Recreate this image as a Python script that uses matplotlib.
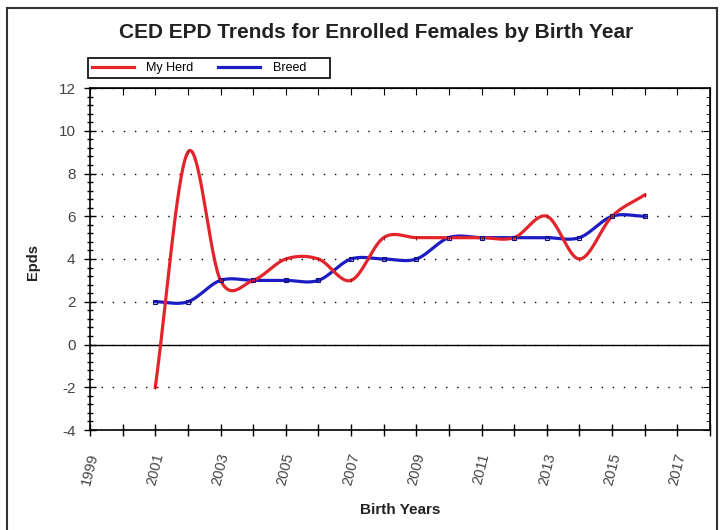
import numpy as np
import matplotlib
matplotlib.use('Agg')
import matplotlib.pyplot as plt
from matplotlib.patches import Rectangle
from matplotlib.ticker import MultipleLocator

years = [2001, 2002, 2003, 2004, 2005, 2006, 2007, 2008,
         2009, 2010, 2011, 2012, 2013, 2014, 2015, 2016]
my_herd = [-2, 9, 3, 3, 4, 4, 3, 5, 5, 5, 5, 5, 6, 4, 6, 7]
breed = [2, 2, 3, 3, 3, 3, 4, 4, 4, 5, 5, 5, 5, 5, 6, 6]

xtick_years = list(range(1999, 2018, 2))


def spline(x, y, n=30):
    # catmull-rom style smoothing through the points
    x = np.asarray(x, float)
    y = np.asarray(y, float)
    m = np.zeros_like(y)
    m[1:-1] = (y[2:] - y[:-2]) / 2
    m[0] = y[1] - y[0]
    m[-1] = y[-1] - y[-2]
    xs, ys = [], []
    for i in range(len(x) - 1):
        t = np.linspace(0, 1, n, endpoint=False)
        h00 = 2 * t**3 - 3 * t**2 + 1
        h10 = t**3 - 2 * t**2 + t
        h01 = -2 * t**3 + 3 * t**2
        h11 = t**3 - t**2
        xs.append(x[i] + t * (x[i + 1] - x[i]))
        ys.append(h00 * y[i] + h10 * m[i] + h01 * y[i + 1] + h11 * m[i + 1])
    xs.append([x[-1]])
    ys.append([y[-1]])
    return np.concatenate(xs), np.concatenate(ys)


plt.rcParams['font.family'] = ['Liberation Sans', 'DejaVu Sans']
plt.rcParams['axes.unicode_minus'] = False

fig = plt.figure(figsize=(7.25, 5.3), dpi=100)
ax = fig.add_axes([90 / 725, 1 - 430 / 530, 620 / 725, 342 / 530])

red = '#e3242b'
blue = '#1c1cc4'

xr, yr = spline(years, my_herd)
xb, yb = spline(years, breed)
ax.plot(xr, yr, color=red, lw=2.3, zorder=4)
ax.plot(years, my_herd, ls='none', marker='|', ms=3, mew=0.8, color='#a01818', zorder=5)
ax.plot(xb, yb, color=blue, lw=2.3, zorder=3)
ax.plot(years, breed, ls='none', marker='s', ms=2.5, mfc='none', mec='#101080', mew=0.8, zorder=5)

ax.axhline(0, color='black', lw=1, zorder=2)
ax.set_xlim(1999, 2018)
ax.set_ylim(-4, 12)
ax.set_xticks(xtick_years)
ax.set_xticklabels([str(y) for y in xtick_years], rotation=76, fontsize=10.5, color='#444444')
ax.xaxis.set_minor_locator(MultipleLocator(1))
ax.yaxis.set_major_locator(MultipleLocator(2))
ax.yaxis.set_minor_locator(MultipleLocator(0.4))
ax.tick_params(axis='x', which='both', direction='inout', length=9, width=1, pad=11)
ax.tick_params(axis='y', which='major', direction='inout', length=9, width=1, labelsize=11,
               labelcolor='#444444', pad=6)
ax.tick_params(axis='y', which='minor', direction='inout', length=5, width=1)

ax.grid(axis='y', which='major', color='black', linestyle=(0, (1, 7)), lw=1)

top = ax.secondary_xaxis('top')
top.set_xticks(range(1999, 2019))
top.tick_params(direction='in', length=5, labeltop=False)
right = ax.secondary_yaxis('right')
right.set_yticks(range(-4, 13, 2))
right.yaxis.set_minor_locator(MultipleLocator(0.4))
right.tick_params(which='major', direction='in', length=5, labelright=False)
right.tick_params(which='minor', direction='in', length=3)

for s in ax.spines.values():
    s.set_linewidth(1.2)

fig.text(376 / 725, 1 - 32 / 530, 'CED EPD Trends for Enrolled Females by Birth Year',
         ha='center', va='center', fontsize=15, fontweight='bold', color='#222222')
fig.text(33 / 725, 1 - 262 / 530, 'Epds', rotation=90, ha='center', va='center',
         fontsize=10.5, fontweight='bold', color='#222222')
fig.text(400 / 725, 1 - 510 / 530, 'Birth Years', ha='center', va='center',
         fontsize=11, fontweight='bold', color='#222222')

# legend without its own frame, box drawn separately to match the wider reference box
leg = fig.legend(handles=[ax.lines[0], ax.lines[2]], labels=['My Herd', 'Breed'],
                 loc='center left', bbox_to_anchor=(89 / 725, 1 - 68 / 530),
                 ncol=2, fontsize=9, frameon=False, borderpad=0.2,
                 handlelength=3.4, handletextpad=1.0, columnspacing=1.9, borderaxespad=0)
fig.patches.append(Rectangle((88 / 725, 1 - 78 / 530), 242 / 725, 20 / 530,
                             transform=fig.transFigure, fill=False,
                             edgecolor='black', lw=1.2))

fig.patches.append(Rectangle((7 / 725, -0.05), 710 / 725, 1.05 - 8 / 530,
                             transform=fig.transFigure, fill=False,
                             edgecolor='#333333', lw=1.5))

fig.savefig('out.png', dpi=100)
